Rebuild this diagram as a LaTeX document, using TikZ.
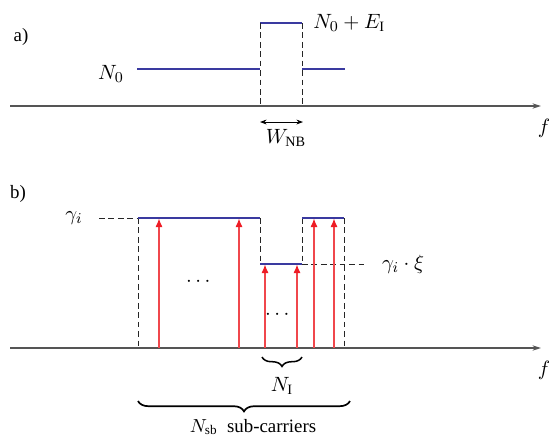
\documentclass[tikz,border=0pt]{standalone}
\usepackage{amsmath,amssymb}
\usepackage[no-math]{fontspec}
\setmainfont{Liberation Serif}
\usepackage{tikz}
\usetikzlibrary{decorations.pathreplacing,positioning,arrows.meta,calc}
\definecolor{lblue}{HTML}{3A3AA0}
\definecolor{cred}{HTML}{F0474C}
\definecolor{cheadred}{HTML}{EE1C25}
\definecolor{caxis}{HTML}{555555}

\begin{document}
\begin{tikzpicture}[x=0.53pt,y=-0.53pt,
  axis/.style={caxis, line width=0.75pt, -{Stealth[length=4.5pt,width=2.8pt]}},
  level/.style={lblue, line width=0.6pt},
  guide/.style={black!85, line width=0.5pt, dash pattern=on 3pt off 2pt},
  carrier/.style={cred, line width=0.6pt, -{Latex[length=4.6pt,width=3.8pt,color=cheadred]}},
  bw/.style={black, line width=0.5pt, {Stealth[length=3.5pt,width=2.6pt]}-{Stealth[length=3.5pt,width=2.6pt]}},
  lbl/.style={inner sep=1pt},
  mlbl/.style={inner sep=1pt, font=\fontsize{10.8pt}{13pt}\selectfont}]
 \useasboundingbox (0,0) rectangle (549,441);
 % a) narrowband interferer on top of the noise floor
 \node[lbl] (la) at (21,37) {a)};
 \coordinate (ax0) at (10,106);
 \coordinate (ax1) at (541,106);
 \draw[axis] (ax0) -- (ax1);
 \node[mlbl] (fa) at (544,128) {$f$};
 \coordinate (nl0) at (137,69);
 \coordinate (nl1) at (260,69);
 \coordinate (nr0) at (302,69);
 \coordinate (nr1) at (345,69);
 \coordinate (it0) at (260,23);
 \coordinate (it1) at (302,23);
 \draw[level] (nl0) -- (nl1);
 \draw[level] (nr0) -- (nr1);
 \draw[level] (it0) -- (it1);
 \draw[guide] (it0) -- (it0 |- ax0);
 \draw[guide] (it1) -- (it1 |- ax0);
 \coordinate (w0) at (260,122);
 \coordinate (w1) at (303,122);
 \draw[bw] (w0) -- (w1);
 \node[mlbl] (wnb) at (286,138) {$W_{\textrm{NB}}$};
 \node[mlbl] (n0) at (111,74) {$N_0$};
 \node[mlbl,anchor=west] (n0e) at (311,23) {$N_0+E_{\textrm{I}}$};
 % b) sub-carrier gains
 \node[lbl] (lb) at (18,194) {b)};
 \coordinate (bx0) at (10,348);
 \coordinate (bx1) at (541,348);
 \draw[axis] (bx0) -- (bx1);
 \node[mlbl] (fb) at (544,370) {$f$};
 \coordinate (g0) at (138,218);
 \coordinate (g1) at (260,218);
 \coordinate (g2) at (302,218);
 \coordinate (g3) at (344,218);
 \coordinate (h0) at (260,264);
 \coordinate (h1) at (302,264);
 \coordinate (gd) at (99,218);
 \coordinate (hd) at (365,264);
 \draw[guide] (gd) -- (g0);
 \draw[guide] (h1) -- (hd);
 \draw[guide] (g0) -- (g0 |- bx0);
 \draw[guide] (g3) -- (g3 |- bx0);
 \draw[guide] (g1) -- (h0);
 \draw[guide] (g2) -- (h1);
 \draw[level] (g0) -- (g1);
 \draw[level] (g2) -- (g3);
 \draw[level] (h0) -- (h1);
 \foreach \x in {159,239,314,334} \draw[carrier] (\x,348) -- (\x,218.5);
 \foreach \x in {265,297} \draw[carrier] (\x,348) -- (\x,264.5);
 \node[mlbl] (dots1) at (200,282) {$\cdots$};
 \node[mlbl] (dots2) at (279,315) {$\cdots$};
 \node[mlbl] (gam) at (74,218) {$\gamma_i$};
 \node[mlbl] (gamxi) at (403,264) {$\gamma_i\cdot\xi$};
 \draw[decorate,decoration={brace,mirror,amplitude=5pt}, line width=0.8pt] (262,357) -- (302,357) coordinate[midway] (nib);
 \node[mlbl] (ni) at (282,386) {$N_{\textrm{I}}$};
 \draw[decorate,decoration={brace,mirror,amplitude=5.5pt}, line width=0.9pt] (138,401) -- (350,401) coordinate[midway] (nsbb);
 \node[lbl] (nsb) at (253,427) {$N_{\textrm{sb}}$\hspace{0.5em}sub-carriers};
\end{tikzpicture}
\end{document}
